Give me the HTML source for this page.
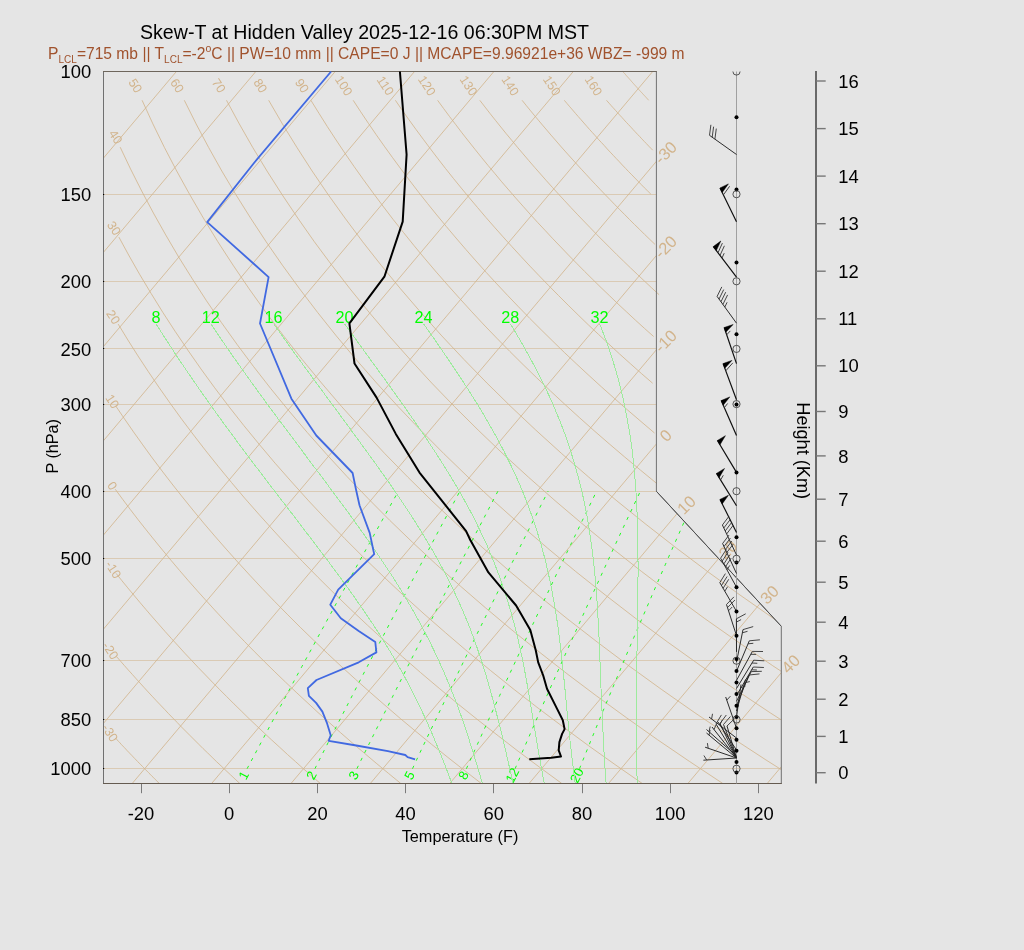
<!DOCTYPE html>
<html><head><meta charset="utf-8"><style>
html,body{margin:0;padding:0;background:#e5e5e5;}
svg{display:block;will-change:transform;}
text{font-family:"Liberation Sans",Arial,sans-serif;}
</style></head><body>
<svg width="1024" height="950" viewBox="0 0 1024 950">
<rect width="1024" height="950" fill="#e5e5e5"/>
<defs><clipPath id="cp"><polygon points="103.5,783.5 781.2,783.5 781.2,626.3 656.2,491.3 656.2,71.5 103.5,71.5"/></clipPath></defs>
<g clip-path="url(#cp)" fill="none" stroke="#d2b48c" stroke-width="1" stroke-opacity="0.82">
<path d="M115.5 738.2 117 739.7 118.4 741.3 119.9 742.8 121.3 744.4 122.8 746 124.3 747.5 125.8 749.1 127.2 750.7 128.7 752.2 130.2 753.8 131.7 755.3 133.2 756.9 134.7 758.5 136.2 760 137.7 761.6 139.2 763.2 140.8 764.7 142.3 766.3 143.8 767.8 145.3 769.4 146.9 771 148.4 772.5 150 774.1 151.5 775.7 153.1 777.2 154.6 778.8 156.2 780.3 157.8 781.9 159.3 783.5"/>
<path d="M116.9 657 120.7 661.3 124.5 665.7 128.4 670.1 132.3 674.4 136.2 678.8 140.1 683.1 144.1 687.5 148.1 691.9 152.1 696.2 156.2 700.6 160.3 704.9 164.5 709.3 168.6 713.7 172.8 718 177.1 722.4 181.3 726.8 185.6 731.1 190 735.5 194.3 739.8 198.7 744.2 203.1 748.6 207.6 752.9 212.1 757.3 216.6 761.7 221.2 766 225.8 770.4 230.4 774.7 235.1 779.1 239.8 783.5"/>
<path d="M116.1 573.4 121.9 580.7 127.8 587.9 133.8 595.1 139.9 602.4 146 609.6 152.3 616.9 158.6 624.1 165 631.4 171.5 638.6 178.1 645.8 184.7 653.1 191.5 660.3 198.3 667.6 205.3 674.8 212.3 682.1 219.4 689.3 226.6 696.5 233.9 703.8 241.3 711 248.7 718.3 256.3 725.5 264 732.8 271.7 740 279.6 747.2 287.5 754.5 295.6 761.7 303.7 769 312 776.2 320.3 783.5"/>
<path d="M115.3 489.3 122.8 499.5 130.4 509.6 138.2 519.8 146.2 529.9 154.3 540 162.6 550.2 171 560.3 179.6 570.5 188.3 580.6 197.3 590.8 206.4 600.9 215.6 611 225.1 621.2 234.7 631.3 244.5 641.5 254.4 651.6 264.6 661.8 274.9 671.9 285.4 682 296.1 692.2 307 702.3 318 712.5 329.3 722.6 340.7 732.8 352.3 742.9 364.2 753 376.2 763.2 388.4 773.3 400.8 783.5"/>
<path d="M115.7 405.9 124.5 418.9 133.5 431.9 142.8 444.9 152.3 458 162.1 471 172.1 484 182.4 497 192.9 510 203.7 523.1 214.8 536.1 226.2 549.1 237.8 562.1 249.7 575.1 261.9 588.2 274.4 601.2 287.2 614.2 300.2 627.2 313.6 640.2 327.3 653.3 341.2 666.3 355.5 679.3 370.1 692.3 385 705.3 400.2 718.4 415.8 731.4 431.7 744.4 447.9 757.4 464.4 770.4 481.3 783.5"/>
<path d="M118.2 324.1 127.9 340 137.9 355.8 148.3 371.6 159.1 387.5 170.2 403.3 181.7 419.2 193.6 435 205.8 450.8 218.5 466.7 231.5 482.5 244.9 498.4 258.8 514.2 273 530 287.6 545.9 302.7 561.7 318.2 577.5 334.2 593.4 350.5 609.2 367.4 625.1 384.6 640.9 402.4 656.7 420.6 672.6 439.3 688.4 458.4 704.3 478.1 720.1 498.3 735.9 518.9 751.8 540.1 767.6 561.8 783.5"/>
<path d="M118.9 237.1 129.2 256 139.9 274.8 151.2 293.6 162.9 312.5 175.1 331.3 187.8 350.1 201 369 214.7 387.8 229 406.7 243.8 425.5 259.2 444.3 275.1 463.2 291.7 482 308.7 500.9 326.4 519.7 344.7 538.5 363.6 557.4 383.1 576.2 403.2 595.1 424 613.9 445.5 632.7 467.6 651.6 490.4 670.4 513.9 689.3 538.1 708.1 563.1 726.9 588.7 745.8 615.1 764.6 642.3 783.5"/>
<path d="M120.2 147.2 130.6 169.1 141.7 191 153.4 213 165.7 234.9 178.6 256.9 192.3 278.8 206.5 300.8 221.5 322.7 237.2 344.6 253.6 366.6 270.7 388.5 288.6 410.5 307.2 432.4 326.6 454.3 346.8 476.3 367.8 498.2 389.6 520.2 412.3 542.1 435.8 564 460.3 586 485.6 607.9 511.8 629.9 539 651.8 567.1 673.8 596.2 695.7 626.3 717.6 657.4 739.6 689.6 761.5 722.8 783.5"/>
<path d="M142.1 100.3 152.9 123.9 164.4 147.4 176.7 171 189.7 194.5 203.4 218.1 217.8 241.7 233.1 265.2 249.1 288.8 265.9 312.3 283.6 335.9 302.1 359.4 321.5 383 341.7 406.6 362.9 430.1 384.9 453.7 407.9 477.2 431.9 500.8 456.9 524.3 482.9 547.9 509.9 571.5 537.9 595 567.1 618.6 597.3 642.1 628.7 665.7 661.2 689.2 694.9 712.8 729.8 736.3 765.9 759.9 803.3 783.5"/>
<path d="M184.3 100.3 196.1 123.9 208.6 147.4 221.8 171 235.8 194.5 250.6 218.1 266.1 241.7 282.4 265.2 299.6 288.8 317.5 312.3 336.3 335.9 356 359.4 376.6 383 398.1 406.6 420.5 430.1 443.9 453.7 468.2 477.2 493.6 500.8 519.9 524.3 547.3 547.9 575.7 571.5 605.3 595 635.9 618.6 667.7 642.1 700.7 665.7 734.8 689.2 770.2 712.8 806.8 736.3 844.6 759.9 883.8 783.5"/>
<path d="M226.5 100.3 239.3 123.9 252.7 147.4 267 171 282 194.5 297.8 218.1 314.3 241.7 331.8 265.2 350 288.8 369.1 312.3 389.1 335.9 410 359.4 431.7 383 454.5 406.6 478.2 430.1 502.8 453.7 528.5 477.2 555.2 500.8 582.9 524.3 611.7 547.9 641.6 571.5 672.7 595 704.8 618.6 738.2 642.1 772.7 665.7 808.5 689.2 845.5 712.8 883.7 736.3 923.3 759.9 964.3 783.5"/>
<path d="M268.7 100.3 282.4 123.9 296.9 147.4 312.1 171 328.1 194.5 345 218.1 362.6 241.7 381.1 265.2 400.5 288.8 420.7 312.3 441.8 335.9 463.9 359.4 486.9 383 510.9 406.6 535.8 430.1 561.8 453.7 588.8 477.2 616.8 500.8 645.9 524.3 676.2 547.9 707.5 571.5 740 595 773.7 618.6 808.6 642.1 844.7 665.7 882.1 689.2 920.8 712.8 960.7 736.3 1002.1 759.9 1044.8 783.5"/>
</g>
<g fill="none" stroke="#d2b48c" stroke-width="1" stroke-opacity="0.82"><path d="M310.9 100.3 319.1 113.5 327.4 126.7 336.1 140 344.9 153.2 354 166.4 363.4 179.6 373 192.8 382.9 206 393 219.3 403.5 232.5 414.1 245.7 425.1 258.9 436.3 272.1 447.9 285.3 459.7 298.5 471.8 311.8 484.1 325 496.8 338.2 509.8 351.4 523.1 364.6 536.7 377.8 550.6 391.1 564.8 404.3 579.3 417.5 594.1 430.7 609.3 443.9 624.8 457.1 640.7 470.3 656.9 483.6"/><path d="M353.2 100.3 360.7 111.8 368.4 123.3 376.2 134.7 384.3 146.2 392.6 157.7 401 169.1 409.7 180.6 418.5 192.1 427.6 203.6 436.8 215 446.3 226.5 456 238 465.8 249.4 475.9 260.9 486.2 272.4 496.8 283.9 507.5 295.3 518.5 306.8 529.7 318.3 541.1 329.7 552.8 341.2 564.6 352.7 576.8 364.2 589.1 375.6 601.7 387.1 614.6 398.6 627.6 410 641 421.5 654.5 433"/><path d="M395.4 100.3 402.1 110.1 409 119.8 416.1 129.6 423.3 139.3 430.6 149.1 438 158.8 445.6 168.6 453.4 178.4 461.3 188.1 469.4 197.9 477.6 207.6 485.9 217.4 494.4 227.1 503.1 236.9 511.9 246.6 520.9 256.4 530 266.2 539.3 275.9 548.8 285.7 558.4 295.4 568.2 305.2 578.1 314.9 588.2 324.7 598.5 334.4 609 344.2 619.6 354 630.4 363.7 641.4 373.5 652.6 383.2"/><path d="M437.6 100.3 443.6 108.5 449.6 116.6 455.8 124.7 462 132.9 468.4 141 474.9 149.2 481.4 157.3 488.1 165.5 494.9 173.6 501.7 181.8 508.7 189.9 515.8 198.1 523 206.2 530.3 214.4 537.7 222.5 545.3 230.6 552.9 238.8 560.7 246.9 568.5 255.1 576.5 263.2 584.6 271.4 592.8 279.5 601.1 287.7 609.6 295.8 618.1 304 626.8 312.1 635.6 320.3 644.5 328.4 653.6 336.5"/><path d="M479.8 100.3 485 107 490.2 113.7 495.5 120.4 500.9 127.1 506.3 133.8 511.9 140.5 517.4 147.2 523.1 153.9 528.8 160.6 534.6 167.3 540.5 174 546.4 180.7 552.4 187.4 558.5 194.1 564.7 200.8 570.9 207.5 577.2 214.2 583.6 220.9 590.1 227.6 596.6 234.4 603.3 241.1 610 247.8 616.7 254.5 623.6 261.2 630.5 267.9 637.6 274.6 644.7 281.3 651.8 288 659.1 294.7"/><path d="M522.1 100.3 526.1 105.3 530.1 110.2 534.2 115.2 538.4 120.2 542.5 125.1 546.8 130.1 551 135.1 555.3 140 559.6 145 564 150 568.4 154.9 572.9 159.9 577.4 164.9 581.9 169.8 586.5 174.8 591.1 179.8 595.7 184.7 600.4 189.7 605.2 194.7 610 199.6 614.8 204.6 619.7 209.6 624.6 214.5 629.5 219.5 634.5 224.5 639.6 229.4 644.6 234.4 649.8 239.4 654.9 244.3"/><path d="M564.3 100.3 567 103.5 569.8 106.8 572.6 110 575.4 113.3 578.2 116.5 581 119.7 583.9 123 586.7 126.2 589.6 129.5 592.5 132.7 595.4 135.9 598.3 139.2 601.3 142.4 604.3 145.6 607.2 148.9 610.2 152.1 613.3 155.4 616.3 158.6 619.4 161.8 622.4 165.1 625.5 168.3 628.6 171.6 631.8 174.8 634.9 178 638.1 181.3 641.2 184.5 644.4 187.8 647.7 191 650.9 194.2"/><path d="M606.5 100.3 608 102 609.6 103.8 611.1 105.5 612.6 107.2 614.2 108.9 615.7 110.6 617.3 112.4 618.8 114.1 620.4 115.8 622 117.5 623.5 119.2 625.1 121 626.7 122.7 628.3 124.4 629.9 126.1 631.5 127.8 633.1 129.6 634.7 131.3 636.3 133 637.9 134.7 639.6 136.4 641.2 138.2 642.8 139.9 644.4 141.6 646.1 143.3 647.7 145 649.4 146.8 651.1 148.5 652.7 150.2"/><path d="M622.7 71.5 623.6 72.4 624.5 73.4 625.4 74.4 626.2 75.4 627.1 76.4 628 77.4 628.9 78.4 629.8 79.4 630.7 80.4 631.5 81.4 632.4 82.4 633.3 83.4 634.2 84.4 635.1 85.4 636 86.4 636.9 87.4 637.8 88.4 638.7 89.4 639.6 90.4 640.5 91.4 641.4 92.3 642.3 93.3 643.2 94.3 644.1 95.3 645.1 96.3 646 97.3 646.9 98.3 647.8 99.3 648.7 100.3"/></g>
<g fill="#d2b48c" font-size="12.6" text-anchor="middle">
<text transform="translate(110.2 732.8) rotate(57)" y="4.5">-30</text>
<text transform="translate(110.6 650.6) rotate(57)" y="4.5">-20</text>
<text transform="translate(113.4 569.5) rotate(57)" y="4.5">-10</text>
<text transform="translate(112.5 485.8) rotate(57)" y="4.5">0</text>
<text transform="translate(112.5 401.3) rotate(57)" y="4.5">10</text>
<text transform="translate(113.4 317.0) rotate(57)" y="4.5">20</text>
<text transform="translate(114.2 228.1) rotate(57)" y="4.5">30</text>
<text transform="translate(115.8 136.8) rotate(57)" y="4.5">40</text>
<text transform="translate(135.6 85.6) rotate(57)" y="4.5">50</text>
<text transform="translate(177.3 85.6) rotate(57)" y="4.5">60</text>
<text transform="translate(218.9 85.6) rotate(57)" y="4.5">70</text>
<text transform="translate(260.6 85.6) rotate(57)" y="4.5">80</text>
<text transform="translate(302.2 85.6) rotate(57)" y="4.5">90</text>
<text transform="translate(343.9 85.6) rotate(57)" y="4.5">100</text>
<text transform="translate(385.5 85.6) rotate(57)" y="4.5">110</text>
<text transform="translate(427.1 85.6) rotate(57)" y="4.5">120</text>
<text transform="translate(468.8 85.6) rotate(57)" y="4.5">130</text>
<text transform="translate(510.4 85.6) rotate(57)" y="4.5">140</text>
<text transform="translate(552.1 85.6) rotate(57)" y="4.5">150</text>
<text transform="translate(593.7 85.6) rotate(57)" y="4.5">160</text>
</g>
<g clip-path="url(#cp)" fill="none" stroke="#d2b48c" stroke-width="1" stroke-opacity="0.82">
<path d="M-502.8 783.5 L97.0 71.5"/>
<path d="M-423.5 783.5 L176.4 71.5"/>
<path d="M-344.1 783.5 L255.8 71.5"/>
<path d="M-264.7 783.5 L335.2 71.5"/>
<path d="M-185.3 783.5 L414.5 71.5"/>
<path d="M-105.9 783.5 L493.9 71.5"/>
<path d="M-26.6 783.5 L573.3 71.5"/>
<path d="M52.8 783.5 L652.7 71.5"/>
<path d="M132.2 783.5 L732.1 71.5"/>
<path d="M211.6 783.5 L811.4 71.5"/>
<path d="M291.0 783.5 L890.8 71.5"/>
<path d="M370.3 783.5 L970.2 71.5"/>
<path d="M449.7 783.5 L1049.6 71.5"/>
<path d="M529.1 783.5 L1129.0 71.5"/>
<path d="M608.5 783.5 L1208.3 71.5"/>
<path d="M687.9 783.5 L1287.7 71.5"/>
<path d="M767.2 783.5 L1367.1 71.5"/>
</g>
<g fill="#d2b48c" font-size="16.5" text-anchor="middle">
<text transform="translate(665.5 152.6) rotate(-45)" x="0" y="5.9">-30</text>
<text transform="translate(665.5 246.8) rotate(-45)" x="0" y="5.9">-20</text>
<text transform="translate(665.5 341.1) rotate(-45)" x="0" y="5.9">-10</text>
<text transform="translate(665.5 435.3) rotate(-45)" x="0" y="5.9">0</text>
<text transform="translate(686.3 504.8) rotate(-45)" x="0" y="5.9">10</text>
<text transform="translate(727.8 549.7) rotate(-45)" x="0" y="5.9">20</text>
<text transform="translate(769.4 594.6) rotate(-45)" x="0" y="5.9">30</text>
<text transform="translate(790.5 663.8) rotate(-45)" x="0" y="5.9">40</text>
</g>
<g fill="none" stroke="#d2b48c" stroke-width="1" stroke-opacity="0.55">
<path d="M103.5 768.5 H781.2"/>
<path d="M103.5 719.5 H781.2"/>
<path d="M103.5 660.5 H781.2"/>
<path d="M103.5 558.5 H718.7"/>
<path d="M103.5 491.5 H656.2"/>
<path d="M103.5 404.5 H656.2"/>
<path d="M103.5 348.5 H656.2"/>
<path d="M103.5 281.5 H656.2"/>
<path d="M103.5 194.5 H656.2"/>
</g>
<g clip-path="url(#cp)" fill="none" stroke="#00ff00" stroke-width="0.85" stroke-dasharray="3.2 5.6">
<path d="M247.1 768.7 254.9 754.1 262.7 739.5 270.5 724.9 278.3 710.3 286.2 695.7 294 681.1 301.9 666.5 309.9 651.9 317.8 637.3 325.8 622.7 333.7 608.1 341.8 593.5 349.8 578.8 357.8 564.2 365.9 549.6 374 535 382.1 520.4 390.2 505.8 398.4 491.2"/>
<path d="M314.9 768.7 322.3 754.1 329.7 739.5 337.2 724.9 344.7 710.3 352.2 695.7 359.7 681.1 367.3 666.5 374.9 651.9 382.5 637.3 390.1 622.7 397.8 608.1 405.5 593.5 413.2 578.8 420.9 564.2 428.7 549.6 436.4 535 444.2 520.4 452.1 505.8 459.9 491.2"/>
<path d="M356.9 768.7 364 754.1 371.3 739.5 378.5 724.9 385.8 710.3 393.1 695.7 400.4 681.1 407.7 666.5 415.1 651.9 422.5 637.3 429.9 622.7 437.4 608.1 444.9 593.5 452.4 578.8 459.9 564.2 467.5 549.6 475 535 482.7 520.4 490.3 505.8 497.9 491.2"/>
<path d="M412.5 768.7 419.3 754.1 426.2 739.5 433.2 724.9 440.2 710.3 447.2 695.7 454.2 681.1 461.2 666.5 468.3 651.9 475.4 637.3 482.6 622.7 489.8 608.1 497 593.5 504.2 578.8 511.4 564.2 518.7 549.6 526 535 533.4 520.4 540.7 505.8 548.1 491.2"/>
<path d="M466.4 768.7 473 754.1 479.6 739.5 486.2 724.9 492.9 710.3 499.6 695.7 506.3 681.1 513.1 666.5 519.9 651.9 526.7 637.3 533.6 622.7 540.5 608.1 547.4 593.5 554.3 578.8 561.3 564.2 568.3 549.6 575.4 535 582.4 520.4 589.5 505.8 596.6 491.2"/>
<path d="M515.1 768.7 521.4 754.1 527.8 739.5 534.1 724.9 540.5 710.3 546.9 695.7 553.4 681.1 559.9 666.5 566.4 651.9 573 637.3 579.6 622.7 586.2 608.1 592.9 593.5 599.6 578.8 606.3 564.2 613 549.6 619.8 535 626.6 520.4 633.5 505.8 640.4 491.2"/>
<path d="M579.5 768.7 585.4 754.1 591.3 739.5 597.3 724.9 603.3 710.3 609.4 695.7 615.5 681.1 621.6 666.5 627.7 651.9 633.9 637.3 640.2 622.7 646.5 608.1 652.8 593.5 659.1 578.8 665.5 564.2 671.9 549.6 678.4 535 684.8 520.4 691.4 505.8 697.9 491.2"/>
</g>
<g fill="#00ff00" font-size="13.2" text-anchor="middle">
<text transform="translate(243.6 775.3) rotate(-62)" y="4.6">1</text>
<text transform="translate(311.5 775.3) rotate(-62)" y="4.6">2</text>
<text transform="translate(353.6 775.3) rotate(-62)" y="4.6">3</text>
<text transform="translate(409.4 775.3) rotate(-62)" y="4.6">5</text>
<text transform="translate(463.4 775.3) rotate(-62)" y="4.6">8</text>
<text transform="translate(512.3 775.3) rotate(-62)" y="4.6">12</text>
<text transform="translate(576.8 775.3) rotate(-62)" y="4.6">20</text>
</g>
<g clip-path="url(#cp)" fill="none" stroke="#9deb9d" stroke-width="1" shape-rendering="crispEdges">
<path d="M155.9 323.7 166 339.5 176.3 355.4 187 371.2 197.9 387.1 209 402.9 220.4 418.8 232 434.6 243.8 450.5 255.8 466.4 267.8 482.2 280 498.1 292.2 513.9 304.3 529.8 316.4 545.6 328.4 561.5 340.1 577.3 351.6 593.2 362.7 609.1 373.4 624.9 383.6 640.8 393.2 656.6 402.3 672.5 410.8 688.3 418.7 704.2 426.1 720 433.1 735.9 439.6 751.8 445.9 767.6 451.9 783.5"/>
<path d="M210.7 323.7 221.4 339.5 232.3 355.4 243.5 371.2 254.9 387.1 266.4 402.9 278.1 418.8 290 434.6 301.9 450.5 313.8 466.4 325.7 482.2 337.5 498.1 349.2 513.9 360.6 529.8 371.8 545.6 382.6 561.5 393 577.3 402.9 593.2 412.2 609.1 421 624.9 429.3 640.8 436.9 656.6 444.1 672.5 450.7 688.3 457 704.2 462.6 720 467.9 735.9 472.9 751.8 477.7 767.6 482.4 783.5"/>
<path d="M273.6 323.7 284.8 339.5 296.2 355.4 307.8 371.2 319.4 387.1 331.1 402.9 342.8 418.8 354.4 434.6 366 450.5 377.5 466.4 388.7 482.2 399.6 498.1 410.1 513.9 420.2 529.8 429.7 545.6 438.8 561.5 447.2 577.3 454.9 593.2 462.1 609.1 468.7 624.9 474.7 640.8 480.1 656.6 485.2 672.5 489.8 688.3 494.1 704.2 498.2 720 502.2 735.9 505.9 751.8 509.5 767.6 513.2 783.5"/>
<path d="M344.4 323.7 355.9 339.5 367.4 355.4 378.9 371.2 390.4 387.1 401.7 402.9 412.8 418.8 423.7 434.6 434.2 450.5 444.4 466.4 454.1 482.2 463.2 498.1 471.8 513.9 479.7 529.8 487.1 545.6 493.7 561.5 499.8 577.3 505.2 593.2 510.1 609.1 514.5 624.9 518.4 640.8 521.9 656.6 525 672.5 527.9 688.3 530.6 704.2 533.2 720 535.8 735.9 538.5 751.8 541.3 767.6 544.3 783.5"/>
<path d="M423.5 323.7 434.6 339.5 445.5 355.4 456.2 371.2 466.6 387.1 476.6 402.9 486.1 418.8 495.1 434.6 503.6 450.5 511.4 466.4 518.7 482.2 525.3 498.1 531.2 513.9 536.6 529.8 541.4 545.6 545.6 561.5 549.2 577.3 552.4 593.2 555.2 609.1 557.7 624.9 559.8 640.8 561.6 656.6 563.3 672.5 564.9 688.3 566.4 704.2 567.9 720 569.5 735.9 571.3 751.8 573.2 767.6 575.2 783.5"/>
<path d="M510.3 323.7 519.7 339.5 528.7 355.4 537.2 371.2 545.1 387.1 552.4 402.9 559 418.8 565.1 434.6 570.5 450.5 575.3 466.4 579.6 482.2 583.4 498.1 586.6 513.9 589.3 529.8 591.6 545.6 593.5 561.5 595.2 577.3 596.5 593.2 597.5 609.1 598.4 624.9 599.2 640.8 599.8 656.6 600.4 672.5 601 688.3 601.7 704.2 602.5 720 603.2 735.9 604 751.8 605 767.6 606.1 783.5"/>
<path d="M599.6 323.7 605.7 339.5 611.2 355.4 616.1 371.2 620.4 387.1 624.1 402.9 627.2 418.8 629.9 434.6 632.2 450.5 633.9 466.4 635.3 482.2 636.4 498.1 637.1 513.9 637.6 529.8 637.9 545.6 638 561.5 638 577.3 637.9 593.2 637.7 609.1 637.4 624.9 637.2 640.8 636.9 656.6 636.8 672.5 636.7 688.3 636.6 704.2 636.5 720 636.5 735.9 636.6 751.8 636.8 767.6 637.2 783.5"/>
</g>
<g fill="#00ff00" font-size="16.2" text-anchor="middle">
<text x="155.9" y="322.5">8</text>
<text x="210.7" y="322.5">12</text>
<text x="273.6" y="322.5">16</text>
<text x="344.4" y="322.5">20</text>
<text x="423.5" y="322.5">24</text>
<text x="510.3" y="322.5">28</text>
<text x="599.6" y="322.5">32</text>
</g>
<path d="M103.5 71.5 V783.5 H781.3 V626.3 L656.4 491.3 V71.5" fill="none" stroke="#707070" stroke-width="1"/>
<path d="M103 71.5 H656.9" stroke="#6e665c" stroke-width="1"/>
<path d="M103 783.5 H781.8" stroke="#655b50" stroke-width="1"/>
<path d="M781.3 626.3 L656.4 491.3" stroke="#505050" stroke-width="1"/>
<g fill="#000"><rect x="103" y="768" width="1.2" height="1"/><rect x="103" y="719" width="1.2" height="1"/><rect x="103" y="660" width="1.2" height="1"/><rect x="103" y="558" width="1.2" height="1"/><rect x="103" y="491" width="1.2" height="1"/><rect x="103" y="404" width="1.2" height="1"/><rect x="103" y="348" width="1.2" height="1"/><rect x="103" y="281" width="1.2" height="1"/><rect x="103" y="194" width="1.2" height="1"/></g>
<path d="M331.1 71.5 254 163 207.2 222.1 254 264 268.6 277.1 260 323.5 291.4 398.7 316.3 435.5 352.6 473 356.1 490 359.5 505.3 369.7 532.9 374.2 554.2 338.2 589.7 330.3 604.7 340.8 618.3 358.7 631.1 375.3 642.1 376.4 652.4 358.7 662.3 316.5 680 307.8 688.2 308.9 695.8 316.1 702.9 322.4 711.6 327.1 723.4 330.7 735.3 328.7 740.8 356.3 745.5 387.9 751.1 405.3 755 407.6 757.1 415.1 759.3" fill="none" stroke="#4169e1" stroke-width="1.8" stroke-linejoin="round"/>
<path d="M399.9 71.5 406.6 154.5 402.7 221.6 384.4 276.7 349.4 323.4 354.5 363.5 376.6 397.6 395.8 433.9 419.5 472.6 466.1 531.1 470.3 540 488.4 572.4 516.1 605.5 530.3 630 535.8 650.5 538.2 662.4 543.2 675.5 547 688.7 556.6 707.9 562.8 720.2 564.6 729.1 562.1 733.9 559.4 742.1 558.7 750.3 561 756.5 551.2 757.8 529.3 759.2" fill="none" stroke="#000" stroke-width="2" stroke-linejoin="round"/>
<defs><clipPath id="wc"><rect x="680" y="71.5" width="120" height="712"/></clipPath></defs>
<path d="M736.5 71.5 V783.5" stroke="#a0a0a0" stroke-width="1"/>
<g clip-path="url(#wc)">
<path d="M736.5 221.8 L720.0 188.0 M736.5 277.1 L713.3 246.6 M736.5 363.6 L724.2 327.5 M736.5 399.7 L723.1 363.6 M736.5 435.5 L721.2 400.6 M736.5 472.4 L717.4 440.5 M736.5 505.7 L716.5 473.4 M736.5 532.6 L720.0 499.4" fill="none" stroke="#111" stroke-width="1.2"/>
<path d="M736.5 555.0 L722.4 525.0 M736.5 573.5 L722.6 543.5 M736.5 587.2 L720.6 558.2 M736.5 611.4 L719.8 582.6 M736.5 635.7 L726.5 604.5 M736.5 651.9 L736.4 618.8 M736.5 662.1 L743.0 629.6 M736.5 671.3 L749.3 640.8 M736.5 680.4 L752.4 651.4 M736.5 688.5 L753.7 660.2 M736.5 695.5 L753.3 667.0 M736.5 701.3 L751.2 671.6 M736.5 705.6 L749.0 675.0 M736.5 711.0 L745.5 679.5 M736.5 717.1 L741.0 684.5 M736.5 728.3 L725.7 697.0 M736.5 738.0 L709.0 717.0 M736.5 758.0 L706.5 733.0 M736.5 756.0 L706.5 729.5 M736.5 758.0 L705.1 747.2 M736.5 758.0 L703.4 760.2 M736.5 758.0 L716.0 724.0 M736.5 758.0 L720.0 723.5 M736.5 758.0 L723.5 724.5 M736.5 758.0 L727.0 726.0 M736.5 758.0 L712.0 727.0 M736.5 750.0 L718.0 722.0 M736.5 154.5 L709.5 135.3 M736.5 323.2 L717.1 296.4" fill="none" stroke="#222" stroke-width="0.95"/>
<path d="M709.5 135.3 l1.4 -10.5 M712.2 137.2 l1.4 -10.5 M714.9 139.1 l1.4 -10.5 M723.4 194.9 l6.2 -8.6 M718.0 252.7 l4.4 -9.6 M720.0 255.4 l4.4 -9.6 M722.0 258.0 l2.2 -4.8 M717.1 296.4 l4.7 -9.5 M719.0 299.1 l4.7 -9.5 M721.0 301.7 l4.7 -9.5 M722.9 304.4 l4.7 -9.5 M724.8 307.1 l2.3 -4.8 M726.7 334.8 l3.6 -3.9 M725.8 370.8 l7.0 -7.9 M724.3 407.7 l3.3 -4.2 M720.6 479.9 l2.7 -4.6 M722.4 525.0 l6.4 -8.5 M723.8 528.0 l6.4 -8.5 M725.2 531.0 l6.4 -8.5 M726.6 534.0 l6.4 -8.5 M722.6 543.5 l6.4 -8.4 M724.0 546.5 l6.4 -8.4 M725.4 549.5 l6.4 -8.4 M726.8 552.5 l6.4 -8.4 M720.6 558.2 l5.8 -8.9 M722.2 561.1 l5.8 -8.9 M723.8 564.0 l5.8 -8.9 M725.4 566.9 l5.8 -8.9 M726.9 569.8 l2.9 -4.4 M719.8 582.6 l5.6 -9.0 M721.5 585.5 l5.6 -9.0 M723.1 588.3 l5.6 -9.0 M724.8 591.2 l2.8 -4.5 M726.5 604.5 l7.4 -7.6 M727.5 607.6 l7.4 -7.6 M728.5 610.8 l3.7 -3.8 M736.4 618.8 l9.3 -5.0 M736.4 622.1 l4.7 -2.5 M743.0 629.6 l10.2 -3.0 M742.4 632.8 l5.1 -1.5 M749.3 640.8 l10.6 -1.0 M748.0 643.8 l5.3 -0.5 M752.4 651.4 l10.6 0.1 M750.8 654.3 l5.3 0.1 M753.7 660.2 l10.6 0.6 M752.0 663.0 l5.3 0.3 M753.3 667.0 l10.6 0.5 M751.6 669.8 l5.3 0.2 M751.2 671.6 l10.6 -0.3 M749.0 675.0 l10.5 -1.1 M744.6 682.7 l5.2 -1.1 M740.5 687.8 l5.0 -1.8 M726.8 700.1 l3.6 -3.9 M711.6 719.0 l0.9 -5.2 M709.0 735.1 l1.1 -5.2 M709.0 731.7 l1.2 -5.2 M708.2 748.3 l-0.8 -5.2 M706.7 760.0 l-2.8 -4.5 M716.0 724.0 l5.4 -9.1 M720.0 723.5 l6.3 -8.5 M723.5 724.5 l6.9 -8.0 M727.0 726.0 l7.6 -7.4 M714.0 729.6 l2.1 -4.9 M719.8 724.8 l2.5 -4.7" fill="none" stroke="#333" stroke-width="0.9"/>
<path d="M720.0 188.0 L728.4 183.9 L722.2 192.5Z M713.3 246.6 L720.8 241.0 L716.3 250.6Z M724.2 327.5 L733.1 324.5 L725.8 332.2Z M723.1 363.6 L731.9 360.4 L724.8 368.3Z M721.2 400.6 L729.8 396.9 L723.2 405.2Z M717.4 440.5 L725.4 435.7 L720.0 444.8Z M716.5 473.4 L724.5 468.5 L719.1 477.7Z M720.0 499.4 L728.4 495.3 L722.2 503.9Z" fill="#000" stroke="#000" stroke-width="0.5"/>
<g fill="#000"><circle cx="736.5" cy="117.3" r="2"/><circle cx="736.5" cy="189.4" r="2"/><circle cx="736.5" cy="262.5" r="2"/><circle cx="736.5" cy="334.3" r="2"/><circle cx="736.5" cy="404.4" r="2"/><circle cx="736.5" cy="472.4" r="2"/><circle cx="736.5" cy="537.2" r="2"/><circle cx="736.5" cy="562.4" r="2"/><circle cx="736.5" cy="587.2" r="2"/><circle cx="736.5" cy="611.5" r="2"/><circle cx="736.5" cy="635.7" r="2"/><circle cx="736.5" cy="659.1" r="2"/><circle cx="736.5" cy="671.0" r="2"/><circle cx="736.5" cy="682.5" r="2"/><circle cx="736.5" cy="694.0" r="2"/><circle cx="736.5" cy="705.7" r="2"/><circle cx="736.5" cy="717.1" r="2"/><circle cx="736.5" cy="728.3" r="2"/><circle cx="736.5" cy="739.7" r="2"/><circle cx="736.5" cy="750.7" r="2"/><circle cx="736.5" cy="762.0" r="2"/><circle cx="736.5" cy="772.4" r="2"/></g>
<g fill="none" stroke="#3a3a3a" stroke-width="0.85"><circle cx="736.5" cy="71.5" r="3.6"/><circle cx="736.5" cy="194.2" r="3.6"/><circle cx="736.5" cy="281.3" r="3.6"/><circle cx="736.5" cy="348.9" r="3.6"/><circle cx="736.5" cy="404.1" r="3.6"/><circle cx="736.5" cy="491.2" r="3.6"/><circle cx="736.5" cy="558.8" r="3.6"/><circle cx="736.5" cy="660.7" r="3.6"/><circle cx="736.5" cy="719.5" r="3.6"/><circle cx="736.5" cy="768.7" r="3.6"/></g>
</g>
<text x="140" y="38.5" font-size="19.6" fill="#000">Skew-T at Hidden Valley 2025-12-16 06:30PM MST</text>
<text x="48.1" y="58.8" font-size="15.62" fill="#a0522d">P<tspan font-size="10" dy="3.8">LCL</tspan><tspan dy="-3.8">=715 mb || T</tspan><tspan font-size="10" dy="3.8">LCL</tspan><tspan dy="-3.8">=-2</tspan><tspan font-size="10.5" dy="-6.6">o</tspan><tspan dy="6.6">C || PW=10 mm || CAPE=0 J || MCAPE=9.96921e+36 WBZ= -999 m</tspan></text>
<g font-size="18.4" fill="#000" text-anchor="end">
<text x="91.2" y="78.1">100</text>
<text x="91.2" y="200.8">150</text>
<text x="91.2" y="287.9">200</text>
<text x="91.2" y="355.5">250</text>
<text x="91.2" y="410.7">300</text>
<text x="91.2" y="497.8">400</text>
<text x="91.2" y="565.4">500</text>
<text x="91.2" y="667.3">700</text>
<text x="91.2" y="726.1">850</text>
<text x="91.2" y="775.3">1000</text>
</g>
<text transform="translate(57.9 446.3) rotate(-90)" font-size="16.2" text-anchor="middle" fill="#000">P (hPa)</text>
<g stroke="#7a7a7a" stroke-width="1">
<path d="M141.5 784 V793.2"/>
<path d="M229.5 784 V793.2"/>
<path d="M317.5 784 V793.2"/>
<path d="M405.5 784 V793.2"/>
<path d="M493.5 784 V793.2"/>
<path d="M582.5 784 V793.2"/>
<path d="M670.5 784 V793.2"/>
<path d="M758.5 784 V793.2"/>
</g>
<g font-size="18.4" fill="#000" text-anchor="middle">
<text x="141.0" y="819.7">-20</text>
<text x="229.2" y="819.7">0</text>
<text x="317.4" y="819.7">20</text>
<text x="405.6" y="819.7">40</text>
<text x="493.8" y="819.7">60</text>
<text x="582.0" y="819.7">80</text>
<text x="670.2" y="819.7">100</text>
<text x="758.4" y="819.7">120</text>
</g>
<text x="460" y="842" font-size="16.3" text-anchor="middle" fill="#000">Temperature (F)</text>
<path d="M816 71 V783.6" stroke="#6a6a6a" stroke-width="2" fill="none"/>
<g stroke="#777" stroke-width="1.4">
<path d="M816 772.7 H825.7"/>
<path d="M816 736.4 H825.7"/>
<path d="M816 699.2 H825.7"/>
<path d="M816 661.2 H825.7"/>
<path d="M816 622.2 H825.7"/>
<path d="M816 582.2 H825.7"/>
<path d="M816 541.2 H825.7"/>
<path d="M816 499.2 H825.7"/>
<path d="M816 455.9 H825.7"/>
<path d="M816 411.5 H825.7"/>
<path d="M816 365.8 H825.7"/>
<path d="M816 318.8 H825.7"/>
<path d="M816 271.2 H825.7"/>
<path d="M816 223.7 H825.7"/>
<path d="M816 176.1 H825.7"/>
<path d="M816 128.6 H825.7"/>
<path d="M816 81.0 H825.7"/>
</g>
<g font-size="18.4" fill="#000">
<text x="838.2" y="779.3">0</text>
<text x="838.2" y="743.0">1</text>
<text x="838.2" y="705.8">2</text>
<text x="838.2" y="667.8">3</text>
<text x="838.2" y="628.8">4</text>
<text x="838.2" y="588.8">5</text>
<text x="838.2" y="547.8">6</text>
<text x="838.2" y="505.8">7</text>
<text x="838.2" y="462.5">8</text>
<text x="838.2" y="418.1">9</text>
<text x="838.2" y="372.4">10</text>
<text x="838.2" y="325.4">11</text>
<text x="838.2" y="277.8">12</text>
<text x="838.2" y="230.3">13</text>
<text x="838.2" y="182.7">14</text>
<text x="838.2" y="135.2">15</text>
<text x="838.2" y="87.6">16</text>
</g>
<text transform="translate(796.5 450.7) rotate(90)" font-size="18.15" text-anchor="middle" fill="#000">Height (Km)</text>
</svg></body></html>
